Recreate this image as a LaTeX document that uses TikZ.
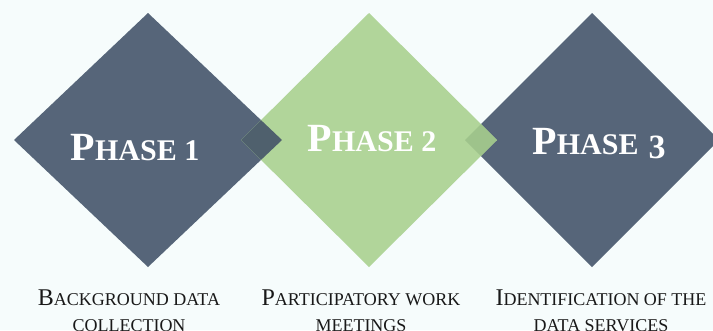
\documentclass[tikz,border=0pt]{standalone}
\usepackage{fontspec}
\setmainfont{Liberation Serif}
\usetikzlibrary{calc, shapes.geometric}

\definecolor{paper}{RGB}{246,252,252}
\definecolor{slate}{RGB}{86,101,121}
\definecolor{sage}{RGB}{177,213,154}
\definecolor{slatesage}{RGB}{79,96,109}
\definecolor{sageslate}{RGB}{158,195,139}

% small caps made from capitals
\newcommand{\fakesc}[2]{#1\scalebox{.75}{#2}}

\begin{document}
\begin{tikzpicture}[x=1pt, y=-1pt]
    \tikzstyle{phasebox} = [diamond, inner sep=0, outer sep=0, minimum height=254]
    \tikzstyle{phasename} = [anchor=base, inner sep=0, text=white, font=\fontsize{40}{42}\selectfont\bfseries]
    \tikzstyle{caption} = [anchor=north, inner sep=0, align=center, text=black!90, font=\fontsize{24}{26}\selectfont]

    \fill[paper] (0, 0) rectangle (713, 330);
    \clip (0, 0) rectangle (713, 330);

    % Diamonds ------------------------------------------
    \node (D1) at (148, 140) [phasebox, minimum width=268, fill=slate] {};
    \node (D3) at (592, 140) [phasebox, minimum width=254, fill=slate] {};
    \node (D2) at (369, 140) [phasebox, minimum width=256, fill=sage] {};

    % overlaps
    \begin{scope}
        \clip (D1.north) -- (D1.east) -- (D1.south) -- (D1.west) -- cycle;
        \fill[slatesage] (D2.north) -- (D2.east) -- (D2.south) -- (D2.west) -- cycle;
    \end{scope}
    \begin{scope}
        \clip (D3.north) -- (D3.east) -- (D3.south) -- (D3.west) -- cycle;
        \fill[sageslate] (D2.north) -- (D2.east) -- (D2.south) -- (D2.west) -- cycle;
    \end{scope}
    % ---------------------------------------------------

    % Phase names ---------------------------------------
    \node (P1) at ($(D1) + (-13, 20)$) [phasename] {\fakesc{P}{HASE 1}};
    \node (P2) at ($(D2) + (3, 11)$) [phasename] {\fakesc{P}{HASE 2}};
    \node (P3) at ($(D3) + (7, 14)$) [phasename] {\fakesc{P}{HASE} \raisebox{-.1em}{\scalebox{.85}{3}}};

    % Captions
    \node (L1) at ($(D1) + (-19, 150)$) [caption] {\fakesc{B}{ACKGROUND DATA}\\ \scalebox{.75}{COLLECTION}};
    \node (L2) at ($(D2) + (-8, 150)$) [caption] {\fakesc{P}{ARTICIPATORY WORK}\\ \scalebox{.75}{MEETINGS}};
    \node (L3) at ($(D3) + (9, 150)$) [caption] {\fakesc{I}{DENTIFICATION OF THE}\\ \scalebox{.75}{DATA SERVICES}};
\end{tikzpicture}
\end{document}
